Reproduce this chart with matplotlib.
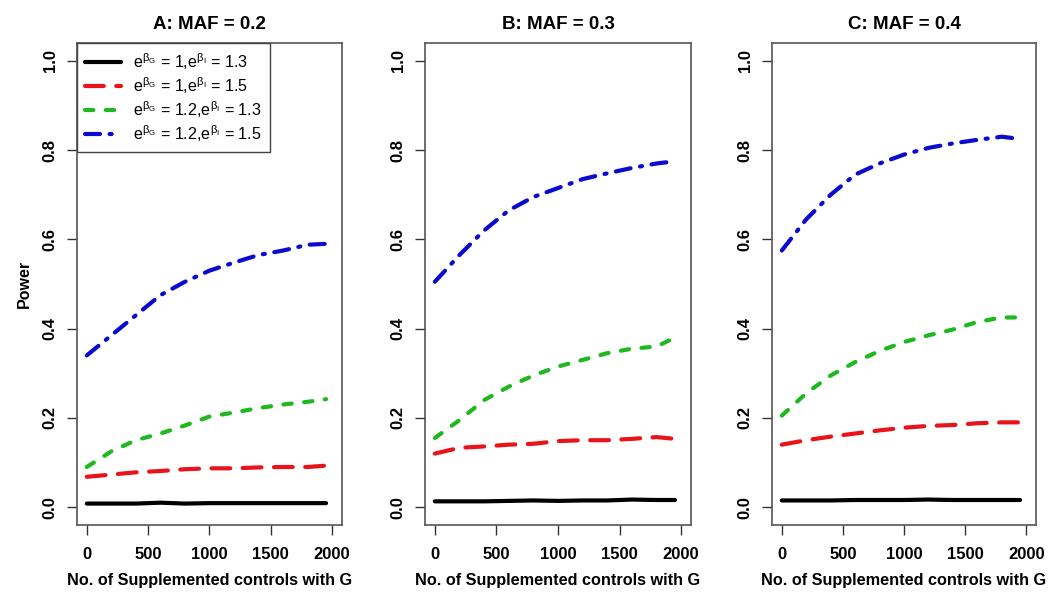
import numpy as np
import matplotlib
matplotlib.use("Agg")
import matplotlib.pyplot as plt

plt.rcParams['font.family'] = ['Liberation Sans', 'DejaVu Sans']
plt.rcParams['mathtext.fontset'] = 'custom'
plt.rcParams['mathtext.rm'] = 'Liberation Sans'
plt.rcParams['mathtext.it'] = 'Liberation Sans:italic'

n_controls = [0, 200, 400, 600, 800, 1000, 1200, 1400, 1600, 1800, 1950]

titles = ["A: MAF = 0.2", "B: MAF = 0.3", "C: MAF = 0.4"]
labels = [r"$\mathregular{e^{\beta_G}}$ = 1,$\mathregular{e^{\beta_I}}$ = 1.3",
          r"$\mathregular{e^{\beta_G}}$ = 1,$\mathregular{e^{\beta_I}}$ = 1.5",
          r"$\mathregular{e^{\beta_G}}$ = 1.2,$\mathregular{e^{\beta_I}}$ = 1.3",
          r"$\mathregular{e^{\beta_G}}$ = 1.2,$\mathregular{e^{\beta_I}}$ = 1.5"]

# panel A, MAF 0.2
a_black = [0.008, 0.008, 0.008, 0.010, 0.008, 0.009, 0.009, 0.009, 0.009, 0.009, 0.009]
a_red   = [0.068, 0.073, 0.078, 0.081, 0.085, 0.087, 0.087, 0.089, 0.090, 0.090, 0.093]
a_green = [0.090, 0.125, 0.150, 0.165, 0.183, 0.203, 0.212, 0.222, 0.230, 0.236, 0.242]
a_blue  = [0.340, 0.385, 0.430, 0.475, 0.505, 0.530, 0.548, 0.565, 0.575, 0.588, 0.590]

# panel B, MAF 0.3
b_black = [0.013, 0.013, 0.013, 0.014, 0.015, 0.014, 0.015, 0.015, 0.017, 0.016, 0.016]
b_red   = [0.120, 0.133, 0.136, 0.140, 0.142, 0.148, 0.150, 0.150, 0.153, 0.157, 0.153]
b_green = [0.155, 0.195, 0.240, 0.270, 0.295, 0.315, 0.330, 0.345, 0.355, 0.360, 0.380]
b_blue  = [0.505, 0.565, 0.620, 0.665, 0.695, 0.715, 0.735, 0.748, 0.760, 0.770, 0.775]

# panel C, MAF 0.4
c_black = [0.015, 0.015, 0.015, 0.016, 0.016, 0.016, 0.017, 0.016, 0.016, 0.016, 0.016]
c_red   = [0.140, 0.150, 0.158, 0.165, 0.172, 0.178, 0.182, 0.184, 0.188, 0.190, 0.190]
c_green = [0.205, 0.255, 0.295, 0.325, 0.350, 0.370, 0.385, 0.398, 0.415, 0.425, 0.425]
c_blue  = [0.575, 0.645, 0.700, 0.745, 0.770, 0.790, 0.805, 0.815, 0.823, 0.830, 0.825]

panels = [[a_black, a_red, a_green, a_blue],
          [b_black, b_red, b_green, b_blue],
          [c_black, c_red, c_green, c_blue]]

colors = ["black", "#e8141a", "#1fb81f", "#0a0ad0"]
dashes = [None, (4.5, 3.0), (2.0, 3.0), (3.6, 2.3, 0.5, 2.3)]

fig = plt.figure(figsize=(10.53, 5.95), dpi=100)
lefts = [77, 425, 772]
widths = [265, 266, 264]
axes = []
for i in range(3):
    ax = fig.add_axes([lefts[i] / 1053, 1 - 525 / 595, widths[i] / 1053, (525 - 43) / 595])
    for j in range(4):
        ln, = ax.plot(n_controls, panels[i][j], color=colors[j], lw=3.0,
                      label=labels[j], solid_capstyle='round', dash_capstyle='round')
        if dashes[j] is not None:
            ln.set_dashes(dashes[j])
    ax.set_xlim(-80, 2080)
    ax.set_ylim(-0.04, 1.04)
    ax.set_xticks([0, 500, 1000, 1500, 2000])
    ax.set_yticks([0.0, 0.2, 0.4, 0.6, 0.8, 1.0])
    ax.set_yticklabels(["0.0", "0.2", "0.4", "0.6", "0.8", "1.0"], rotation=90, va='center')
    ax.tick_params(direction='out', length=7, width=1, labelsize=12, color='#333333')
    ax.tick_params(axis='x', pad=9)
    ax.tick_params(axis='y', pad=7)
    for lab in ax.get_xticklabels() + ax.get_yticklabels():
        lab.set_fontweight('bold')
    for s in ax.spines.values():
        s.set_color('#555555')
        s.set_linewidth(1.2)
    ax.set_title(titles[i], fontsize=13.5, fontweight='bold', pad=10)
    ax.set_xlabel("No. of Supplemented controls with G", fontsize=11.7,
                  fontweight='bold', labelpad=8)
    axes.append(ax)

axes[0].set_ylabel("Power", fontsize=11.5, fontweight='bold', labelpad=8)
leg = axes[0].legend(loc='upper left', bbox_to_anchor=(0, 1), borderaxespad=0,
                     fontsize=11.6, handlelength=2.2, labelspacing=0.2,
                     borderpad=0.5, handletextpad=0.8,
                     fancybox=False, framealpha=1, edgecolor='#444444')
leg.get_frame().set_linewidth(1.0)

fig.savefig("out.png", dpi=100)
